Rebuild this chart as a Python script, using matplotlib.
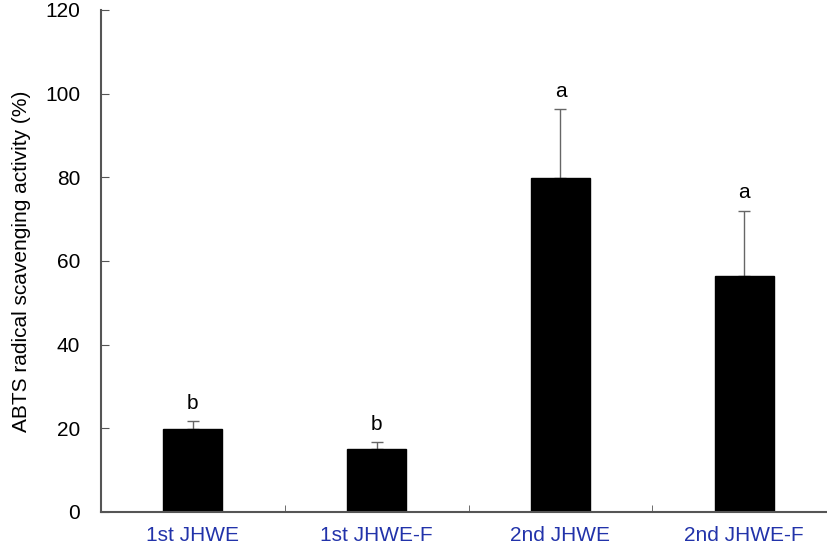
import matplotlib
matplotlib.use("Agg")
import matplotlib.pyplot as plt
import numpy as np

groups = ["1st JHWE", "1st JHWE-F", "2nd JHWE", "2nd JHWE-F"]
means = [19.8, 15.1, 79.9, 56.3]
errs = [1.9, 1.6, 16.4, 15.7]
letters = ["b", "b", "a", "a"]

plt.rcParams['font.family'] = ['Liberation Sans', 'DejaVu Sans']

fig = plt.figure(figsize=(8.27, 5.52), dpi=100)
ax = fig.add_axes([0.1221, 0.0725, 0.8779, 0.9094])

x = np.arange(len(groups))
axis_col = '#555555'
ax.bar(x, means, width=0.32, color='black', edgecolor='black', zorder=2)
ax.errorbar(x, means, yerr=[[0] * len(x), errs], fmt='none', ecolor='#666666',
            elinewidth=1, capsize=4, capthick=1, zorder=1)

# significance letters above the error bars
for xi, m, e, lab in zip(x, means, errs, letters):
    ax.text(xi, m + e + 2.0, lab, ha='center', va='bottom', fontsize=15)

ax.set_xlim(-0.5, 3.45)
ax.set_ylim(0, 120)
ax.set_yticks(range(0, 121, 20))
ax.set_xticks(x)
ax.set_xticklabels(groups, color='#2233aa', fontsize=15)
ax.set_xticks([0.5, 1.5, 2.5], minor=True)
ax.tick_params(axis='x', which='major', length=0, pad=10)
ax.tick_params(axis='x', which='minor', direction='in', length=5, color=axis_col)
ax.tick_params(axis='y', direction='in', length=6, color=axis_col, labelsize=15, pad=15)

for s in ['top', 'right']:
    ax.spines[s].set_visible(False)
for s in ['left', 'bottom']:
    ax.spines[s].set_color(axis_col)
    ax.spines[s].set_linewidth(1.5)

ax.set_ylabel('ABTS radical scavenging activity (%)', fontsize=15, labelpad=10)

fig.savefig('out.png', dpi=100)
